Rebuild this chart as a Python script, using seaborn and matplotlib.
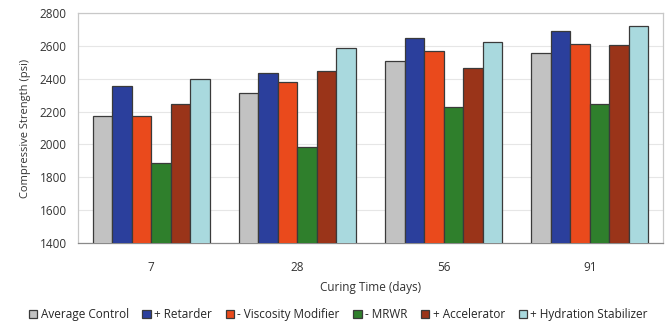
### Compressive strength vs curing time, grouped bars
import matplotlib
matplotlib.use('Agg')
import matplotlib.pyplot as plt
import seaborn as sns
import pandas as pd

### Data
curing_days = ['7', '28', '56', '91']
mixes = ['Average Control', '+ Retarder', '- Viscosity Modifier', '- MRWR',
         '+ Accelerator', '+ Hydration Stabilizer']
average_control = [2175, 2310, 2505, 2555]
retarder = [2355, 2437, 2650, 2692]
viscosity_modifier = [2175, 2382, 2570, 2613]
mrwr = [1885, 1986, 2228, 2244]
accelerator = [2245, 2449, 2463, 2605]
hydration_stabilizer = [2396, 2585, 2623, 2721]
y_ticks = [1400, 1600, 1800, 2000, 2200, 2400, 2600, 2800]

colors = ['#C2C2C2', '#2B3F9C', '#EA4A1C', '#2F7F2C', '#9A3419', '#A9D9DE']

series = [average_control, retarder, viscosity_modifier, mrwr, accelerator, hydration_stabilizer]
rows = []
for mix, vals in zip(mixes, series):
    for day, v in zip(curing_days, vals):
        rows.append({'day': day, 'mix': mix, 'strength': v})
df = pd.DataFrame(rows)

## Plot
sns.set_style('white')
plt.rcParams['font.family'] = ['Open Sans', 'DejaVu Sans']

fig = plt.figure(figsize=(6.67, 3.26), dpi=100)
ax = fig.add_axes([0.117, 0.255, 0.877, 0.705])

sns.barplot(data=df, x='day', y='strength', hue='mix', order=curing_days,
            hue_order=mixes, palette=colors, width=0.8, edgecolor='#3a3a3a',
            linewidth=0.9, saturation=1, ax=ax, zorder=3)

ax.set_ylim(1400, 2800)
ax.set_xlim(-0.5, 3.5)
ax.set_yticks(y_ticks)
ax.tick_params(axis='y', labelsize=8.5, colors='#333333', length=0, pad=8)
ax.tick_params(axis='x', labelsize=8.5, colors='#333333', length=0, pad=13)
ax.yaxis.grid(True, color='#e6e6e6', linewidth=0.8, zorder=0)
ax.set_axisbelow(True)
for s in ax.spines.values():
    s.set_color('#c8c8c8')
    s.set_linewidth(0.9)
ax.spines['bottom'].set_color('#8a8a8a')

ax.set_xlabel('Curing Time (days)', fontsize=8.5, color='#333333', labelpad=5)
ax.set_ylabel('Compressive Strength (psi)', fontsize=8, color='#333333', labelpad=6)

handles, labels = ax.get_legend_handles_labels()
ax.legend(handles, labels, loc='upper center', bbox_to_anchor=(0.445, -0.265),
          ncol=6, frameon=False, fontsize=8.5, handlelength=0.7, handleheight=0.7,
          handletextpad=0.3, columnspacing=1.15, borderaxespad=0)

fig.savefig('out.png', dpi=100)
